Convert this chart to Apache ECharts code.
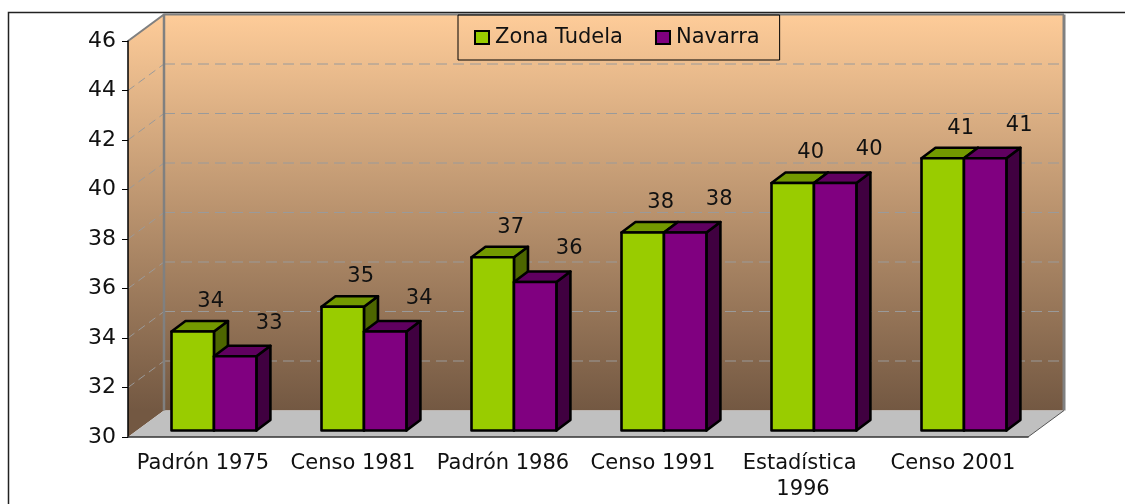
<!DOCTYPE html>
<html>
<head>
<meta charset="utf-8">
<script src="https://cdn.jsdelivr.net/npm/echarts@6/dist/echarts.min.js"></script>
<style>
  html, body { margin: 0; padding: 0; background: #fff; }
  #chart { width: 1125px; height: 504px; }
</style>
</head>
<body>
<div id="chart"></div>
<script>
// datos
const categories = ['Padrón 1975', 'Censo 1981', 'Padrón 1986', 'Censo 1991', 'Estadística 1996', 'Censo 2001']
const zonaTudela = [34, 35, 37, 38, 40, 41]
const navarra = [33, 34, 36, 38, 40, 41]
const yTicks = [30, 32, 34, 36, 38, 40, 42, 44, 46]

const FONT = 'DejaVu Sans'
// profundidad de la pared del fondo
const DX = 36
const DY = -26.5

const myChart = echarts.init(document.getElementById('chart'))

// paredes, suelo y líneas de división
function renderWalls(params, api) {
    const cs = params.coordSys
    const x = cs.x, y = cs.y, w = cs.width, h = cs.height
    const grad = new echarts.graphic.LinearGradient(0, y + DY, 0, y + h + DY, [
        { offset: 0, color: '#fecc99' },
        { offset: 1, color: '#735842' }
    ], true)
    const children = []
    // pared lateral
    children.push({
        type: 'polygon',
        shape: { points: [[x, y], [x + DX, y + DY], [x + DX, y + h + DY], [x, y + h]] },
        style: { fill: grad }
    })
    // pared del fondo
    children.push({
        type: 'rect',
        shape: { x: x + DX, y: y + DY, width: w, height: h },
        style: { fill: grad }
    })
    // suelo
    children.push({
        type: 'polygon',
        shape: { points: [[x, y + h], [x + DX, y + h + DY], [x + w + DX, y + h + DY], [x + w, y + h]] },
        style: { fill: '#c0c0c0' }
    })
    // líneas de división discontinuas
    yTicks.slice(1, -1).forEach(function (v) {
        const yv = api.coord([0, v])[1]
        children.push({
            type: 'line',
            shape: { x1: x + DX, y1: yv + DY, x2: x + w + DX, y2: yv + DY },
            style: { stroke: '#9a9a9a', lineWidth: 1, lineDash: [11, 6] }
        })
        children.push({
            type: 'line',
            shape: { x1: x, y1: yv, x2: x + DX, y2: yv + DY },
            style: { stroke: '#9a9a9a', lineWidth: 1, lineDash: [8, 5] }
        })
    })
    // bordes grises
    children.push({
        type: 'polyline',
        shape: { points: [[x, y], [x + DX, y + DY], [x + w + DX, y + DY]] },
        style: { stroke: '#808080', lineWidth: 2, fill: 'none' }
    })
    children.push({
        type: 'line',
        shape: { x1: x + DX, y1: y + DY, x2: x + DX, y2: y + h + DY },
        style: { stroke: '#808080', lineWidth: 2.5 }
    })
    children.push({
        type: 'line',
        shape: { x1: x + w + DX, y1: y + DY, x2: x + w + DX, y2: y + h + DY },
        style: { stroke: '#808080', lineWidth: 3 }
    })
    children.push({
        type: 'line',
        shape: { x1: x + w, y1: y + h, x2: x + w + DX, y2: y + h + DY },
        style: { stroke: '#555', lineWidth: 1 }
    })
    return { type: 'group', children: children }
}

// barras 3D
function barRenderer(side, front, top, right, labelDx, labelDy) {
    return function (params, api) {
        const cat = api.value(0)
        const val = api.value(1)
        const band = api.size([1, 0])[0]
        const c = api.coord([cat, val])
        const b = api.coord([cat, yTicks[0]])
        const bw = band * 0.283
        const sx = band * 0.073
        const sy = -6.5
        const x0 = c[0] + sx + (side === 0 ? -bw : 0)
        const x1 = x0 + bw
        const yt = c[1] + sy
        const yb = b[1] + sy
        const dx = 14, dy = -10.5
        const line = { stroke: '#000', lineWidth: 2.6, lineJoin: 'round' }
        return {
            type: 'group',
            children: [
                {
                    type: 'polygon',
                    shape: { points: [[x1, yt], [x1 + dx, yt + dy], [x1 + dx, yb + dy], [x1, yb]] },
                    style: Object.assign({ fill: right }, line)
                },
                {
                    type: 'polygon',
                    shape: { points: [[x0, yt], [x0 + dx, yt + dy], [x1 + dx, yt + dy], [x1, yt]] },
                    style: Object.assign({ fill: top }, line)
                },
                {
                    type: 'rect',
                    shape: { x: x0, y: yt, width: bw, height: yb - yt },
                    style: Object.assign({ fill: front }, line)
                },
                {
                    type: 'text',
                    style: {
                        text: String(val),
                        x: (x0 + x1) / 2 + labelDx,
                        y: yt + labelDy,
                        align: 'center',
                        verticalAlign: 'middle',
                        fontSize: 21,
                        fontFamily: FONT,
                        fill: '#111'
                    }
                }
            ]
        }
    }
}

const options = {
    animation: false,
    backgroundColor: '#fff',
    graphic: [
        {
            type: 'rect',
            z: 100,
            shape: { x: 8.5, y: 12.5, width: 1300, height: 600 },
            style: { fill: 'none', stroke: '#222', lineWidth: 1.5 },
            silent: true
        }
    ],
    legend: {
        data: ['Zona Tudela', 'Navarra'],
        left: 458,
        top: 15,
        padding: [12, 20, 12, 16],
        itemGap: 32,
        itemWidth: 14,
        itemHeight: 13,
        icon: 'rect',
        borderColor: '#000',
        borderWidth: 1,
        itemStyle: { borderColor: '#000', borderWidth: 2 },
        textStyle: { fontSize: 21, fontFamily: FONT, color: '#111', padding: [0, 0, 0, 1] }
    },
    grid: { left: 128, top: 41, width: 900, height: 396 },
    xAxis: {
        type: 'category',
        data: categories,
        axisLine: { lineStyle: { color: '#333', width: 1.5 } },
        axisTick: { length: 8, lineStyle: { color: '#333' } },
        axisLabel: {
            fontSize: 21,
            fontFamily: FONT,
            color: '#111',
            margin: 14,
            lineHeight: 26,
            width: 150,
            overflow: 'break',
            interval: 0
        },
        z: 10
    },
    yAxis: {
        type: 'value',
        min: yTicks[0],
        max: yTicks[yTicks.length - 1],
        interval: 2,
        axisLine: { show: true, lineStyle: { color: '#000', width: 1.5 } },
        axisTick: { show: true, length: 6, lineStyle: { color: '#000' } },
        splitLine: { show: false },
        axisLabel: { fontSize: 22, fontFamily: FONT, color: '#111', margin: 12 },
        z: 10
    },
    series: [
        {
            name: 'walls',
            type: 'custom',
            silent: true,
            renderItem: renderWalls,
            data: [[0, yTicks[0]]],
            z: 1
        },
        {
            name: 'Zona Tudela',
            type: 'custom',
            itemStyle: { color: '#99cc00' },
            renderItem: barRenderer(0, '#99cc00', '#739900', '#4d6600', 18, -30),
            data: zonaTudela.map(function (v, i) { return [i, v] }),
            z: 2
        },
        {
            name: 'Navarra',
            type: 'custom',
            itemStyle: { color: '#800080' },
            renderItem: barRenderer(1, '#800080', '#600060', '#400040', 34, -33),
            data: navarra.map(function (v, i) { return [i, v] }),
            z: 2
        }
    ]
}

myChart.setOption(options)
</script>
</body>
</html>
